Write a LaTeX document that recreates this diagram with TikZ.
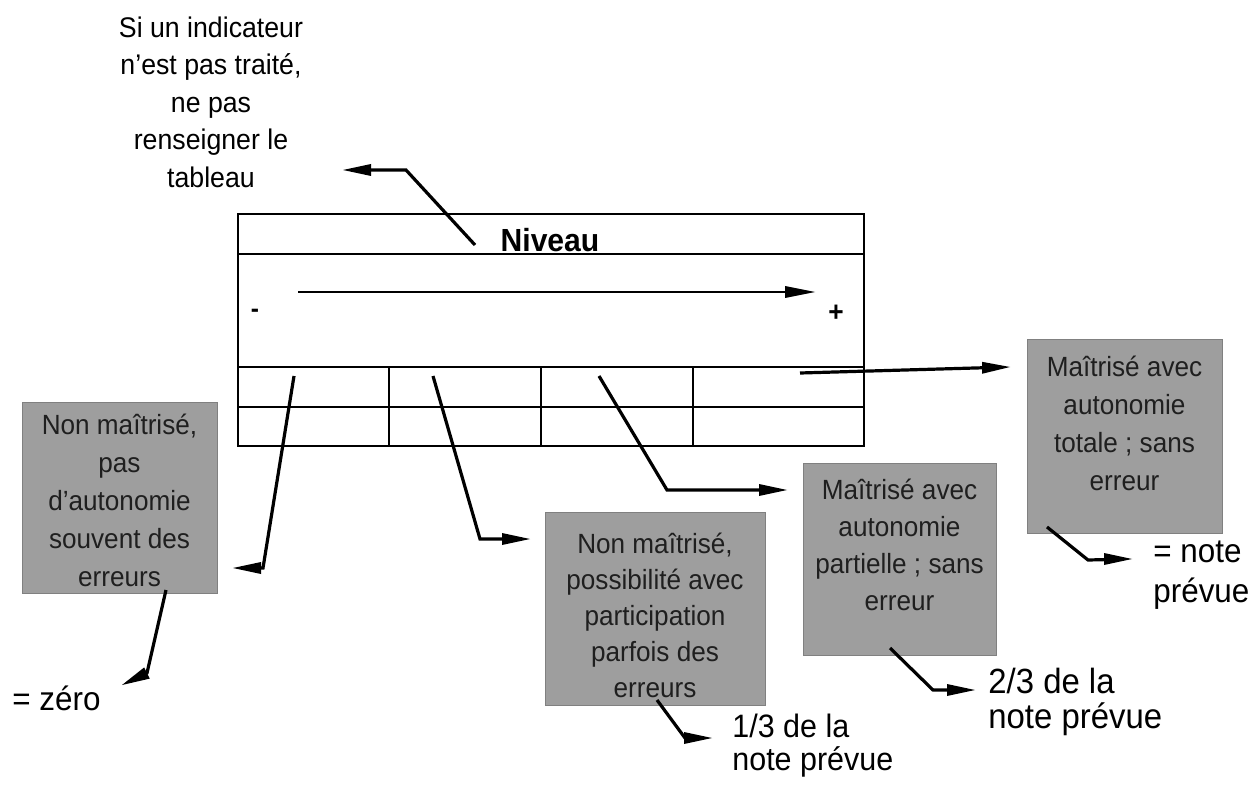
\documentclass[tikz,border=0pt]{standalone}
\usepackage{fontspec}
\setmainfont{Liberation Sans}[FakeStretch=0.94]

\begin{document}
\begin{tikzpicture}[x=5pt,y=5pt,
  gbox/.style={fill=black!38, draw=black!50, line width=0.3pt},
  gtext/.style={align=center, text=black!88, font=\fontsize{13.9}{19}\selectfont},
  notetext/.style={align=left, anchor=west, font=\fontsize{16.2}{16.5}\selectfont},
  pointer/.style={line width=1.6pt, shorten >=11pt}]
\tikzstyle{every node}+=[inner sep=0pt]
\useasboundingbox (0,0) rectangle (125.3,-78.6);
% table
\draw [black, line width=1.4pt] (23.8,-21.4) rectangle (86.4,-44.6);
\draw [black, line width=1pt] (23.8,-25.4) -- (86.4,-25.4);
\draw [black, line width=1pt] (23.8,-36.7) -- (86.4,-36.7);
\draw [black, line width=1pt] (23.8,-40.7) -- (86.4,-40.7);
\foreach \x in {38.9,54.1,69.3}
  \draw [black, line width=1pt] (\x,-36.7) -- (\x,-44.6);
\node (niveau) at (55.0,-24.0) {\fontsize{16}{16}\selectfont\bfseries Niveau};
\node (moins) at (25.5,-31.3) {\fontsize{13}{13}\selectfont\bfseries -};
\node (plus) at (83.6,-31.3) {\fontsize{14}{14}\selectfont\bfseries +};
\coordinate (g0) at (29.8,-29.2);
\coordinate (g1) at (81.5,-29.2);
\draw [black, pointer, line width=1.4pt] (g0) -- (g1);
\fill [black] (g1) -- +(-3.0,0.6) -- +(-3.0,-0.6) -- cycle;
% top note
\node [align=center, font=\fontsize{14.2}{18.75}\selectfont] (vide) at (21.1,-10.2)
  {Si un indicateur\\n'est pas traité,\\ne pas\\renseigner le\\tableau};
\coordinate (n0) at (47.5,-24.5);
\coordinate (n1) at (40.6,-17.0);
\coordinate (n2) at (34.3,-17.0);
\draw [black, pointer] (n0) -- (n1) -- (n2);
\fill [black] (n2) -- +(2.8,0.6) -- +(2.8,-0.6) -- cycle;
% level boxes
\node [gbox, minimum width=97.5pt, minimum height=95.5pt] (zero) at (11.95,-49.75) {};
\node [gtext] (zerot) at (11.95,-50.0)
  {Non maîtrisé,\\pas\\d'autonomie\\souvent des\\erreurs};
\node [gbox, minimum width=110pt, minimum height=96.5pt] (tiers) at (65.5,-60.85) {};
\node [gtext, font=\fontsize{13.9}{18}\selectfont] (tierst) at (65.5,-61.5)
  {Non maîtrisé,\\possibilité avec\\participation\\parfois des\\erreurs};
\node [gbox, minimum width=96.5pt, minimum height=96pt] (partiel) at (89.95,-55.9) {};
\node [gtext, font=\fontsize{13.9}{18.5}\selectfont] (partielt) at (89.95,-54.5)
  {Maîtrisé avec\\autonomie\\partielle ; sans\\erreur};
\node [gbox, minimum width=97.5pt, minimum height=97pt] (total) at (112.45,-43.6) {};
\node [gtext] (totalt) at (112.45,-42.35)
  {Maîtrisé avec\\autonomie\\totale ; sans\\erreur};
% marks
\node [notetext, font=\fontsize{16.7}{16.5}\selectfont] (mzero) at (1.2,-69.8) {= zéro};
\node [notetext] (mtiers) at (73.2,-74.6) {1/3 de la\\note prévue};
\node [notetext, font=\fontsize{17.5}{17.5}\selectfont] (mdeux) at (98.8,-70.15) {2/3 de la\\note prévue};
\node [notetext, font=\fontsize{16.7}{20}\selectfont] (mtout) at (115.3,-57.5) {= note\\prévue};
% pointers from the table
\coordinate (a0) at (29.4,-37.6);
\coordinate (a1) at (26.3,-56.8);
\coordinate (a2) at (23.3,-56.8);
\draw [black, pointer] (a0) -- (a1) -- (a2);
\fill [black] (a2) -- +(2.8,0.6) -- +(2.8,-0.6) -- cycle;
\coordinate (b0) at (43.3,-37.6);
\coordinate (b1) at (48.0,-53.9);
\coordinate (b2) at (53.0,-53.9);
\draw [black, pointer] (b0) -- (b1) -- (b2);
\fill [black] (b2) -- +(-2.8,0.6) -- +(-2.8,-0.6) -- cycle;
\coordinate (c0) at (59.9,-37.6);
\coordinate (c1) at (66.7,-49.0);
\coordinate (c2) at (78.7,-49.0);
\draw [black, pointer] (c0) -- (c1) -- (c2);
\fill [black] (c2) -- +(-2.8,0.6) -- +(-2.8,-0.6) -- cycle;
\coordinate (d0) at (80.0,-37.3);
\coordinate (d2) at (101.0,-36.7);
\draw [black, pointer] (d0) -- (d2);
\fill [black] (d2) -- +(-2.8,0.52) -- +(-2.8,-0.68) -- cycle;
% pointers to the marks
\coordinate (e0) at (16.6,-59.0);
\coordinate (e1) at (14.7,-67.3);
\coordinate (e2) at (12.2,-68.5);
\draw [black, pointer] (e0) -- (e1) -- (e2);
\fill [black] (e2) -- +(2.78,0.64) -- +(2.22,1.76) -- cycle;
\coordinate (f0) at (65.7,-70.0);
\coordinate (f1) at (68.5,-73.8);
\coordinate (f2) at (71.2,-73.8);
\draw [black, pointer] (f0) -- (f1) -- (f2);
\fill [black] (f2) -- +(-2.8,0.6) -- +(-2.8,-0.6) -- cycle;
\coordinate (h0) at (89.0,-64.8);
\coordinate (h1) at (93.3,-69.0);
\coordinate (h2) at (97.5,-69.0);
\draw [black, pointer] (h0) -- (h1) -- (h2);
\fill [black] (h2) -- +(-2.8,0.6) -- +(-2.8,-0.6) -- cycle;
\coordinate (k0) at (104.7,-52.7);
\coordinate (k1) at (108.8,-56.0);
\coordinate (k2) at (113.2,-55.9);
\draw [black, pointer] (k0) -- (k1) -- (k2);
\fill [black] (k2) -- +(-2.8,0.6) -- +(-2.8,-0.6) -- cycle;
\end{tikzpicture}
\end{document}
